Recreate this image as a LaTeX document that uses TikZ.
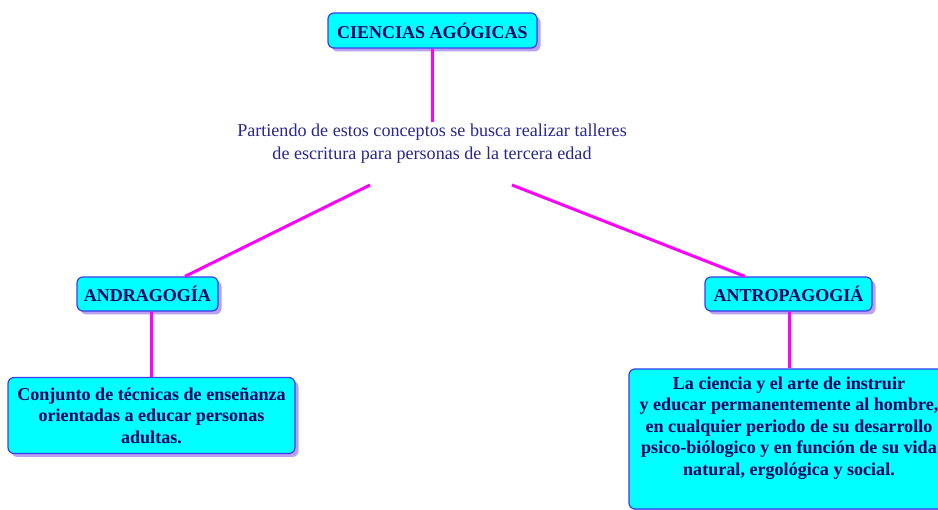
\documentclass[tikz,border=0pt]{standalone}
\usepackage{fontspec}
\setmainfont{Liberation Serif}
\usetikzlibrary{shadows,calc}
\definecolor{cfill}{RGB}{0,255,255}
\definecolor{cborder}{RGB}{60,60,235}
\definecolor{cshadow}{RGB}{185,160,240}
\definecolor{ctext}{RGB}{0,0,102}
\definecolor{cmid}{RGB}{40,40,140}
\definecolor{clink}{RGB}{255,0,255}
\tikzset{
  concept/.style={draw=cborder, line width=1.2pt, fill=cfill, rounded corners=6pt,
    drop shadow={shadow xshift=3.5pt, shadow yshift=-3.5pt, fill=cshadow, opacity=1},
    text=ctext, font=\bfseries\fontsize{18}{21.5}\selectfont, inner sep=0pt},
  desc/.style={concept, font=\bfseries\fontsize{18.1}{21.5}\selectfont, align=center},
  link/.style={draw=clink, line width=3pt},
  midtext/.style={text=cmid, font=\fontsize{18.1}{23}\selectfont, align=center, inner sep=2pt}
}
\begin{document}
\begin{tikzpicture}[x=1pt,y=-1pt]
\useasboundingbox (0,0) rectangle (938,510);
\node[concept, minimum width=209pt, minimum height=35pt] (top) at (432.5,30.5) {CIENCIAS AGÓGICAS};
\node[midtext] (mid) at (432,144) {Partiendo de estos conceptos se busca realizar talleres\\de escritura para personas de la tercera edad};
\node[concept, minimum width=141pt, minimum height=34pt] (andr) at (147.5,294) {ANDRAGOGÍA};
\node[concept, minimum width=167pt, minimum height=34pt] (antr) at (788.5,294) {ANTROPAGOGIÁ};
\node[desc, minimum width=287pt, minimum height=76pt] (lbox) at (151.5,415.5) {Conjunto de técnicas de enseñanza\\orientadas a educar personas\\adultas.};
\node[concept, minimum width=320pt, minimum height=140pt] (rbox) at (789,439) {};
\node[text=ctext, font=\bfseries\fontsize{18.1}{21.5}\selectfont, align=center, inner sep=0pt] (rtext) at (789,428)
  {La ciencia y el arte de instruir\\y educar permanentemente al hombre,\\en cualquier periodo de su desarrollo\\psico-biólogico y en función de su vida\\natural, ergológica y social.};
\coordinate (ml) at (370,185);
\coordinate (mr) at (512,185);
\draw[link] (top.south) -- (top.south |- mid.north);
\draw[link] (ml) -- ($(andr.north)+(37.5,0)$);
\draw[link] (mr) -- ($(antr.north)+(-43.5,0)$);
\draw[link] (lbox.north |- andr.south) -- (lbox.north);
\draw[link] (rbox.north |- antr.south) -- (rbox.north);
\end{tikzpicture}
\end{document}
